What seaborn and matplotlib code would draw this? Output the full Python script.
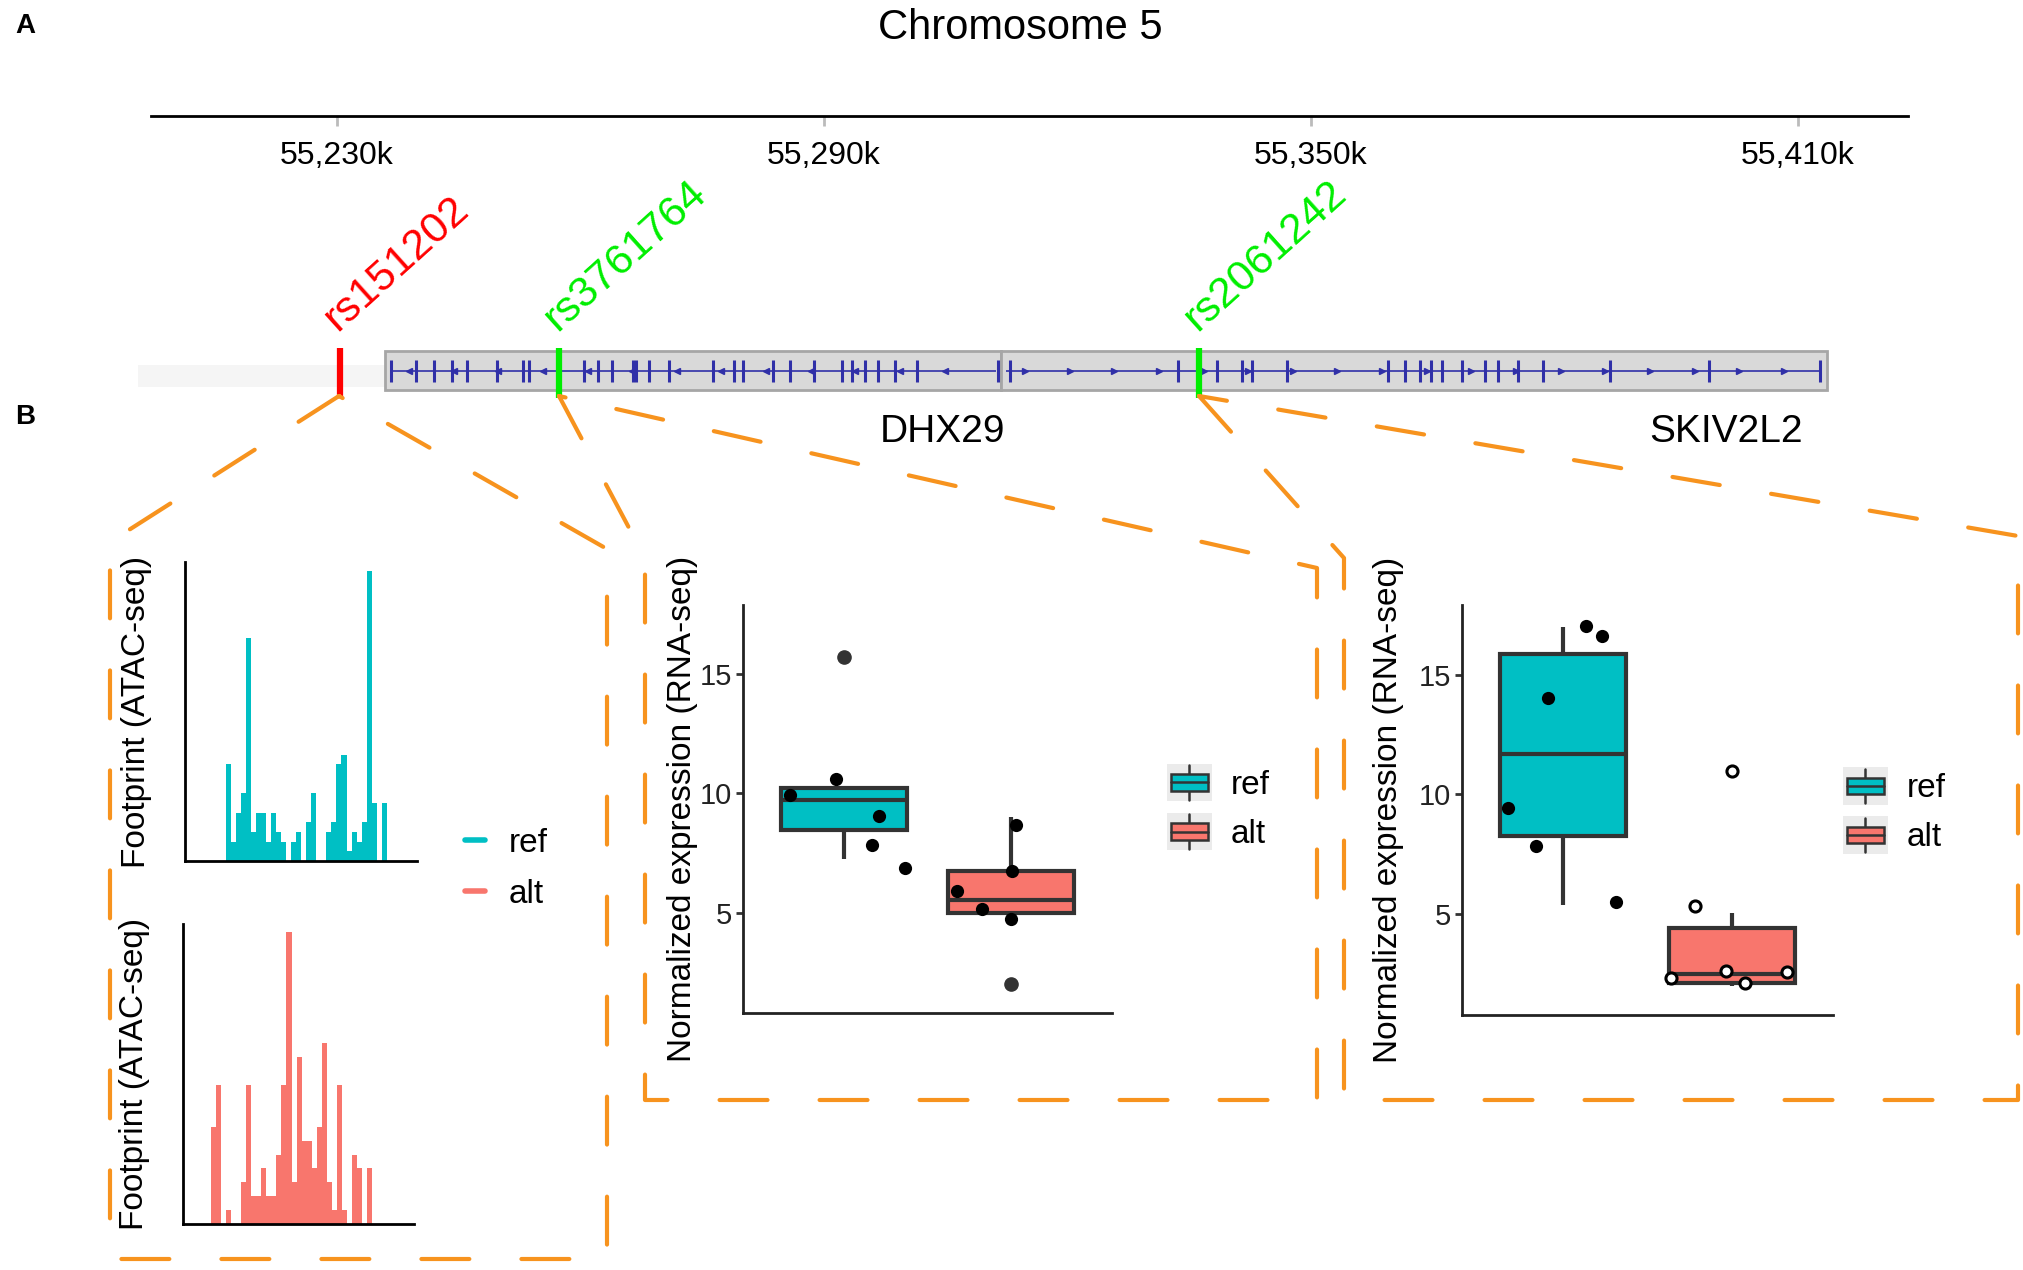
import numpy as np
import pandas as pd
import seaborn as sns
import matplotlib.pyplot as plt
from matplotlib.lines import Line2D
from matplotlib.patches import Rectangle, Patch
from matplotlib.legend_handler import HandlerBase

sns.set_theme(style="ticks")
plt.rcParams['font.family'] = ['Liberation Sans', 'DejaVu Sans']
plt.rcParams['text.color'] = 'black'

TEAL = "#00BFC4"
SALMON = "#F8766D"
ORANGE = "#F7931E"
DARK = "#333333"
BLUE = "#3030A8"

# ---- genomic region (kb on chromosome 5) ----
chrom_ticks = [55230, 55290, 55350, 55410]
chrom_tick_labels = ["55,230k", "55,290k", "55,350k", "55,410k"]
chrom_start, chrom_end = 55207.1, 55423.6
region_lo, region_hi = 55188.5, 55437.9
flank_start, flank_end = 55205.5, 55235.9

gene_names = ["DHX29", "SKIV2L2"]
gene_start = [55235.9, 55311.8]
gene_end = [55311.8, 55413.6]
gene_strand = [-1, 1]
dhx29_exons = [55236.7, 55239.7, 55242.0, 55244.2, 55246.1, 55249.8, 55252.9,
               55253.7, 55260.4, 55262.2, 55263.9, 55266.5, 55266.9, 55268.5,
               55270.9, 55276.3, 55278.9, 55280.0, 55283.7, 55285.9, 55288.8,
               55292.2, 55293.5, 55295.1, 55296.7, 55298.8, 55301.5, 55311.5]
skiv2l2_exons = [55312.9, 55333.6, 55338.4, 55341.6, 55342.8, 55347.1, 55359.5,
                 55361.6, 55363.5, 55364.8, 55366.2, 55368.6, 55371.5, 55373.1,
                 55375.5, 55378.6, 55386.9, 55399.1, 55412.8]

snp_ids = ["rs151202", "rs3761764", "rs2061242"]
snp_pos = [55230.4, 55257.4, 55336.3]
snp_colors = ["#FF0000", "#00EE00", "#00EE00"]

# ---- ATAC-seq footprint counts per bin ----
footprint_ref = [0, 0, 0, 0, 0, 0, 0, 0, 10, 2, 5, 7, 23, 3, 5, 5, 2, 5, 3, 2, 0, 2, 3,
                 0, 4, 7, 0, 0, 3, 4, 10, 11, 1, 3, 2, 4, 30, 6, 0, 6, 0, 0, 0, 0, 0, 0]
footprint_alt = [0, 0, 0, 0, 0, 0, 7, 10, 0, 1, 0, 0, 3, 10, 2, 2, 4, 2, 2, 5, 10, 21,
                 3, 12, 6, 6, 4, 7, 13, 3, 1, 10, 1, 0, 5, 4, 0, 4, 0, 0, 0, 0, 0, 0, 0, 0]

# ---- RNA-seq normalized expression ----
alleles = ["ref", "alt"]
dhx29_ref = [7.25, 8.24, 9.2, 10.24, 10.24, 15.73]
dhx29_alt = [2.0, 5.0, 5.0, 6.04, 7.01, 9.0]
skiv2l2_ref = [5.37, 7.9, 9.3, 14.06, 16.46, 16.99]
skiv2l2_alt = [2.03, 2.04, 2.4, 2.62, 5.04, 10.98]
# jittered points as shown
dhx29_ref_pts = [9.93, 9.05, 10.61, 7.85, 6.89]
dhx29_alt_pts = [8.70, 6.77, 5.92, 5.14, 4.76]
skiv2l2_ref_pts = [17.03, 16.60, 14.02, 9.45, 7.85, 5.53]
skiv2l2_alt_pts = [5.36, 2.65, 2.58, 2.36, 2.12]

W, H = 2024, 1270
fig = plt.figure(figsize=(W / 100, H / 100), dpi=100)


def px_axes(x0, y0, x1, y1):
    return fig.add_axes([x0 / W, 1 - y1 / H, (x1 - x0) / W, (y1 - y0) / H])


def dashed_path(pts):
    xs = [p[0] / W for p in pts]
    ys = [1 - p[1] / H for p in pts]
    fig.add_artist(Line2D(xs, ys, transform=fig.transFigure, color=ORANGE, lw=3,
                          dashes=(11.5, 12.5), dash_capstyle="round"))


class BoxKey(HandlerBase):
    def create_artists(self, legend, orig_handle, xdescent, ydescent,
                       width, height, fontsize, trans):
        x0, y0 = -xdescent, -ydescent
        cx, cy = x0 + width / 2, y0 + height / 2
        bg = Rectangle((x0, y0), width, height, facecolor="#EBEBEB",
                       edgecolor="none", transform=trans)
        whisker = Line2D([cx, cx], [y0 + 1, y0 + height - 1], color=DARK,
                         lw=1.8, transform=trans)
        box = Rectangle((x0 + width * 0.08, cy - height * 0.22), width * 0.84,
                        height * 0.44, facecolor=orig_handle.get_facecolor(),
                        edgecolor=DARK, lw=1.8, transform=trans)
        median = Line2D([x0 + width * 0.08, x0 + width * 0.92], [cy, cy],
                        color=DARK, lw=1.8, transform=trans)
        return [bg, whisker, box, median]


# ---- panel A: chromosome axis ----
fig.text(15 / W, 1 - 26 / H, "A", fontsize=20, fontweight="bold", va="center")
fig.text(15 / W, 1 - 417 / H, "B", fontsize=20, fontweight="bold", va="center")
fig.text(1020 / W, 1 - 28 / H, "Chromosome 5", fontsize=30, ha="center", va="center")

ax_chr = px_axes(0, 115, W, 116)
ax_chr.set_xlim(region_lo, region_hi)
ax_chr.set_yticks([])
for s in ["top", "left", "right"]:
    ax_chr.spines[s].set_visible(False)
ax_chr.spines["bottom"].set_bounds(chrom_start, chrom_end)
ax_chr.spines["bottom"].set_linewidth(2)
ax_chr.spines["bottom"].set_color("black")
ax_chr.set_xticks(chrom_ticks, chrom_tick_labels)
ax_chr.tick_params(axis="x", length=7, width=2, color="#BBBBBB",
                   labelsize=23, labelcolor="black", pad=11, bottom=True)
ax_chr.patch.set_visible(False)

# ---- gene track ----
ax_trk = px_axes(0, 340, W, 405)
ax_trk.set_xlim(region_lo, region_hi)
ax_trk.set_ylim(0, 1)
ax_trk.axis("off")
ax_trk.add_patch(Rectangle((flank_start, 0.28), flank_end - flank_start, 0.34,
                           facecolor="#F5F5F5", edgecolor="none"))
for s, e, strand, exons in zip(gene_start, gene_end, gene_strand,
                                [dhx29_exons, skiv2l2_exons]):
    ax_trk.add_patch(Rectangle((s, 0.23), e - s, 0.6, facecolor="#D9D9D9",
                               edgecolor="#A6A6A6", lw=2))
    ax_trk.hlines(0.53, s + 0.6, e - 0.6, color=BLUE, lw=1.2)
    ax_trk.vlines(exons, 0.36, 0.70, color=BLUE, lw=2.2)
    arrows = np.arange(s + 3, e - 2, 5.5)
    ax_trk.plot(arrows, np.full(len(arrows), 0.53), ls="none",
                marker="<" if strand < 0 else ">", ms=4, color=BLUE)
ax_trk.vlines(snp_pos, 0.11, 0.88, colors=snp_colors, lw=4.5)
for sid, pos, col in zip(snp_ids, snp_pos, snp_colors):
    ax_trk.text(pos - 0.3, 1.12, sid, rotation=42, rotation_mode="anchor",
                ha="left", va="baseline", color=col, fontsize=31)
ax_trk.text(gene_end[0] + 0.6, -0.42, gene_names[0], ha="right", va="center", fontsize=28)
ax_trk.text(gene_end[1] - 3.0, -0.42, gene_names[1], ha="right", va="center", fontsize=28)

# ---- dashed zoom outlines ----
dashed_path([(339, 396), (110, 542), (110, 1259), (607, 1259), (607, 549), (339, 396)])
dashed_path([(559, 396), (645, 558), (645, 1100), (1317, 1100), (1317, 568), (559, 396)])
dashed_path([(1199, 396), (1344, 558), (1344, 1100), (2018, 1100), (2018, 536), (1199, 396)])

# ---- footprint histograms ----
bins = np.arange(len(footprint_ref))
ax_fr = px_axes(185, 562, 417, 861)
sns.histplot(x=bins, weights=footprint_ref, discrete=True, color=TEAL, alpha=1,
             linewidth=0, ax=ax_fr)
ax_fr.set_xlim(-0.58, 45.5)
ax_fr.set_ylim(0, 30.9)

ax_fa = px_axes(183, 924, 414, 1224)
sns.histplot(x=bins, weights=footprint_alt, discrete=True, color=SALMON, alpha=1,
             linewidth=0, ax=ax_fa)
ax_fa.set_xlim(-0.13, 45.92)
ax_fa.set_ylim(0, 21.6)

for ax in (ax_fr, ax_fa):
    sns.despine(ax=ax)
    ax.set_xticks([])
    ax.set_yticks([])
    ax.set_xlabel("")
    ax.set_ylabel("Footprint (ATAC-seq)", fontsize=24, color="black")
    ax.yaxis.set_label_coords(-0.142, 0.5)
    for s in ("left", "bottom"):
        ax.spines[s].set_linewidth(2)
        ax.spines[s].set_color("black")

ax_fr.legend(handles=[Line2D([], [], color=TEAL, lw=4), Line2D([], [], color=SALMON, lw=4)],
             labels=alleles, loc="center left", bbox_to_anchor=(465 / W, 1 - 869 / H),
             bbox_transform=fig.transFigure, frameon=False, fontsize=24,
             handlelength=0.6, handletextpad=0.7, labelspacing=0.6,
             borderpad=0, borderaxespad=0)

# ---- expression boxplots ----
np.random.seed(7)


def expr_panel(box, ref_vals, alt_vals, ref_pts, alt_pts, hollow_alt, legend_xy, label_x):
    ax = px_axes(*box)
    df = pd.DataFrame({"allele": ["ref"] * len(ref_vals) + ["alt"] * len(alt_vals),
                       "expr": ref_vals + alt_vals})
    if hollow_alt:
        fl = dict(marker="o", markerfacecolor="white", markeredgecolor="black",
                  markeredgewidth=2.2, markersize=8)
    else:
        fl = dict(marker="o", markerfacecolor=DARK, markeredgecolor=DARK, markersize=9.5)
    sns.boxplot(data=df, x="allele", y="expr", hue="allele", order=alleles,
                hue_order=alleles, palette=[TEAL, SALMON], width=0.75, linewidth=3,
                linecolor=DARK, saturation=1, showcaps=False, flierprops=fl,
                legend=False, ax=ax)
    sns.stripplot(x=["ref"] * len(ref_pts), y=ref_pts, order=alleles, jitter=0.38,
                  color="black", size=9.5, ax=ax)
    if hollow_alt:
        sns.stripplot(x=["alt"] * len(alt_pts), y=alt_pts, order=alleles, jitter=0.38,
                      color="white", edgecolor="black", linewidth=2.2, size=8, ax=ax)
    else:
        sns.stripplot(x=["alt"] * len(alt_pts), y=alt_pts, order=alleles, jitter=0.38,
                      color="black", size=9.5, ax=ax)
    ax.set_xlim(-0.6, 1.6)
    ax.set_ylim(0.8, 17.9)
    ax.set_xticks([])
    ax.set_yticks([5, 10, 15])
    ax.set_xlabel("")
    ax.set_ylabel("Normalized expression (RNA-seq)", fontsize=24, color="black")
    ax.yaxis.set_label_coords(label_x, 0.5)
    ax.tick_params(axis="y", length=5, width=2, color=DARK, labelsize=21,
                   labelcolor="#222222", pad=3)
    sns.despine(ax=ax)
    for s in ("left", "bottom"):
        ax.spines[s].set_linewidth(2)
        ax.spines[s].set_color("#222222")
    ax.legend(handles=[Patch(facecolor=TEAL), Patch(facecolor=SALMON)], labels=alleles,
              handler_map={Patch: BoxKey()}, loc="center left",
              bbox_to_anchor=(legend_xy[0] / W, 1 - legend_xy[1] / H),
              bbox_transform=fig.transFigure, frameon=False, fontsize=24,
              handlelength=1.35, handleheight=1.35, handletextpad=0.55,
              labelspacing=0.35, borderpad=0, borderaxespad=0)
    return ax


expr_panel((743, 605, 1112, 1013), dhx29_ref, dhx29_alt, dhx29_ref_pts, dhx29_alt_pts,
           False, (1167, 807), -0.122)
expr_panel((1462, 605, 1833, 1015), skiv2l2_ref, skiv2l2_alt, skiv2l2_ref_pts,
           skiv2l2_alt_pts, True, (1843, 810.5), -0.156)

fig.savefig("out.png", dpi=100)
